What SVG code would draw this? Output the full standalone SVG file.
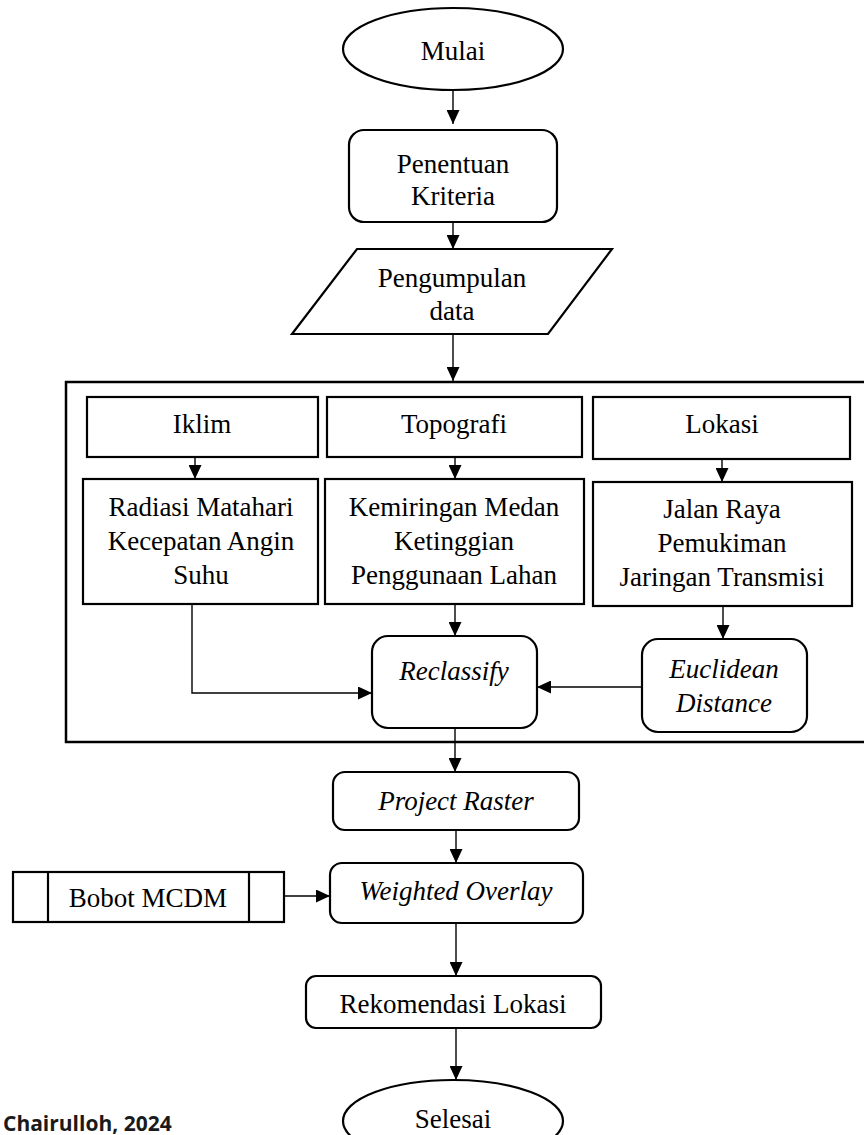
<svg xmlns="http://www.w3.org/2000/svg" width="864" height="1135" viewBox="0 0 864 1135">
<defs>
<style>
.box{fill:#fff;stroke:#000;stroke-width:2.2}
.cont{fill:none;stroke:#000;stroke-width:2.5}
.t{font-family:"Liberation Serif","Times New Roman",serif;font-size:27px;fill:#000;text-anchor:middle}
.i{font-style:italic}
.c{fill:none;stroke:#000;stroke-width:1.4}
.src{font-family:"Open Sans","Noto Sans",sans-serif;font-weight:bold;font-size:21px;fill:#1a1a1a}
</style>
<marker id="ah" markerWidth="14" markerHeight="13" refX="14" refY="6.5" orient="auto" markerUnits="userSpaceOnUse">
<path d="M0,0 L14,6.5 L0,13 z" fill="#000"/>
</marker>
</defs>
<rect width="864" height="1135" fill="#fff"/>

<g id="container">
<rect class="cont" x="66" y="382" width="802" height="360"/>
</g>

<g id="mulai">
<ellipse class="box" cx="453" cy="49" rx="110" ry="41"/>
<text class="t" x="453" y="60">Mulai</text>
</g>

<g id="penentuan">
<rect class="box" x="349" y="130" width="208" height="92" rx="15"/>
<text class="t" x="453" y="173">Penentuan</text>
<text class="t" x="453" y="205">Kriteria</text>
</g>

<g id="pengumpulan">
<polygon class="box" points="357,249 612,249 548,334 292,334"/>
<text class="t" x="452" y="287">Pengumpulan</text>
<text class="t" x="452" y="320">data</text>
</g>

<g id="iklim">
<rect class="box" x="87" y="397" width="231" height="60"/>
<text class="t" x="202" y="433">Iklim</text>
</g>

<g id="topografi">
<rect class="box" x="327" y="397" width="255" height="60"/>
<text class="t" x="454" y="433">Topografi</text>
</g>

<g id="lokasi">
<rect class="box" x="593" y="397" width="257" height="62"/>
<text class="t" x="722" y="433">Lokasi</text>
</g>

<g id="iklim-detail">
<rect class="box" x="83" y="479" width="235" height="125"/>
<text class="t" x="201" y="516">Radiasi Matahari</text>
<text class="t" x="201" y="550">Kecepatan Angin</text>
<text class="t" x="201" y="584">Suhu</text>
</g>

<g id="topografi-detail">
<rect class="box" x="325" y="479" width="259" height="125"/>
<text class="t" x="454" y="516">Kemiringan Medan</text>
<text class="t" x="454" y="550">Ketinggian</text>
<text class="t" x="454" y="584">Penggunaan Lahan</text>
</g>

<g id="lokasi-detail">
<rect class="box" x="593" y="482" width="259" height="124"/>
<text class="t" x="722" y="518">Jalan Raya</text>
<text class="t" x="722" y="552">Pemukiman</text>
<text class="t" x="722" y="586">Jaringan Transmisi</text>
</g>

<g id="reclassify">
<rect class="box" x="372" y="636" width="165" height="92" rx="16"/>
<text class="t i" x="454" y="680">Reclassify</text>
</g>

<g id="euclidean">
<rect class="box" x="642" y="639" width="165" height="93" rx="16"/>
<text class="t i" x="724" y="678">Euclidean</text>
<text class="t i" x="724" y="712">Distance</text>
</g>

<g id="project-raster">
<rect class="box" x="333" y="772" width="246" height="58" rx="12"/>
<text class="t i" x="456" y="810">Project Raster</text>
</g>

<g id="weighted-overlay">
<rect class="box" x="330" y="863" width="253" height="60" rx="12"/>
<text class="t i" x="456" y="900">Weighted Overlay</text>
</g>

<g id="bobot">
<rect class="box" x="13" y="872" width="271" height="50"/>
<line class="box" x1="48" y1="872" x2="48" y2="922"/>
<line class="box" x1="249" y1="872" x2="249" y2="922"/>
<text class="t" x="148" y="907">Bobot MCDM</text>
</g>

<g id="rekomendasi">
<rect class="box" x="306" y="976" width="295" height="52" rx="10"/>
<text class="t" x="453" y="1013">Rekomendasi Lokasi</text>
</g>

<g id="selesai">
<ellipse class="box" cx="453" cy="1121" rx="110" ry="41"/>
<text class="t" x="453" y="1128">Selesai</text>
</g>

<g id="connectors">
<line class="c" x1="453" y1="90" x2="453" y2="124" marker-end="url(#ah)"/>
<line class="c" x1="453" y1="222" x2="453" y2="249" marker-end="url(#ah)"/>
<line class="c" x1="453" y1="334" x2="453" y2="381" marker-end="url(#ah)"/>
<line class="c" x1="195" y1="457" x2="195" y2="479" marker-end="url(#ah)"/>
<line class="c" x1="455" y1="457" x2="455" y2="479" marker-end="url(#ah)"/>
<line class="c" x1="722" y1="459" x2="722" y2="482" marker-end="url(#ah)"/>
<polyline class="c" points="192,604 192,693 372,693" marker-end="url(#ah)"/>
<line class="c" x1="455" y1="604" x2="455" y2="636" marker-end="url(#ah)"/>
<line class="c" x1="723" y1="606" x2="723" y2="639" marker-end="url(#ah)"/>
<line class="c" x1="642" y1="687" x2="537" y2="687" marker-end="url(#ah)"/>
<line class="c" x1="455" y1="728" x2="455" y2="772" marker-end="url(#ah)"/>
<line class="c" x1="456" y1="830" x2="456" y2="863" marker-end="url(#ah)"/>
<line class="c" x1="284" y1="896" x2="330" y2="896" marker-end="url(#ah)"/>
<line class="c" x1="456" y1="923" x2="456" y2="976" marker-end="url(#ah)"/>
<line class="c" x1="456" y1="1028" x2="456" y2="1080" marker-end="url(#ah)"/>
</g>

<text class="src" x="3" y="1131">Chairulloh, 2024</text>
</svg>
